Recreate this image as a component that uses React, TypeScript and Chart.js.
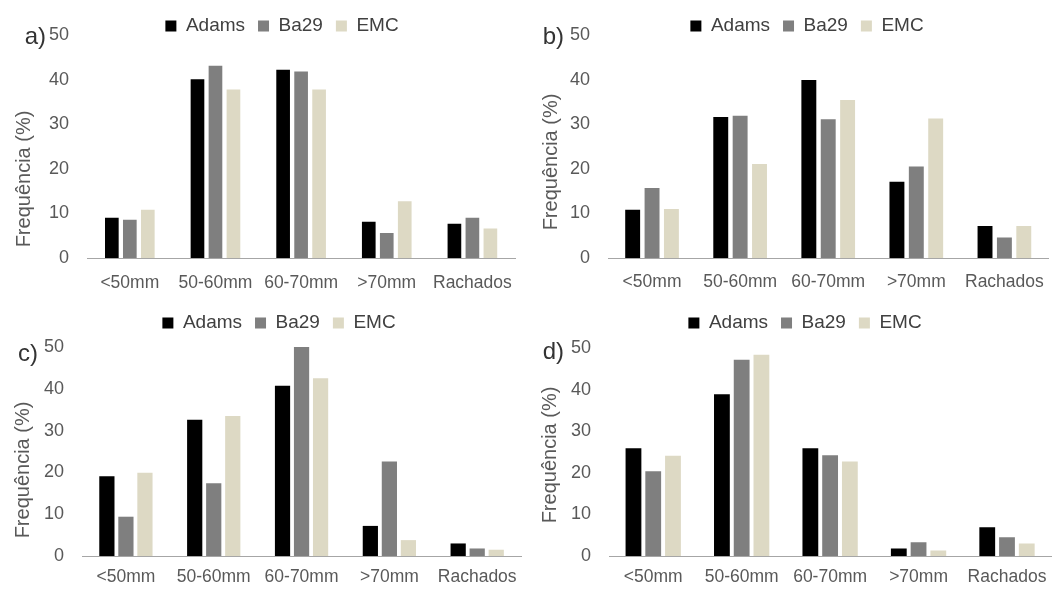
import React, { useEffect, useRef } from "react";
import { Chart, registerables } from "chart.js";

Chart.register(...registerables);

const categories = ["<50mm", "50-60mm", "60-70mm", ">70mm", "Rachados"];
const seriesNames = ["Adams", "Ba29", "EMC"];
const seriesColors = ["#000000", "#7f7f7f", "#ddd9c4"];
const yTicks = [0, 10, 20, 30, 40, 50];
const yTitle = "Frequência (%)";

const adamsA = [9.0, 40.1, 42.2, 8.1, 7.7];
const ba29A = [8.6, 43.1, 41.8, 5.6, 9.0];
const emcA = [10.8, 37.8, 37.8, 12.7, 6.6];

const adamsB = [10.8, 31.6, 39.9, 17.1, 7.2];
const ba29B = [15.7, 31.9, 31.1, 20.5, 4.6];
const emcB = [11.0, 21.1, 35.4, 31.3, 7.2];

const adamsC = [19.1, 32.6, 40.7, 7.2, 3.0];
const ba29C = [9.4, 17.4, 50.0, 22.6, 1.8];
const emcC = [19.9, 33.5, 42.5, 3.8, 1.5];

const adamsD = [25.9, 38.9, 25.9, 1.8, 6.9];
const ba29D = [20.4, 47.2, 24.2, 3.3, 4.5];
const emcD = [24.1, 48.4, 22.7, 1.3, 3.0];

const FONT = '"Liberation Sans", Arial, Helvetica, sans-serif';

type Panel = {
  letter: string;
  series: number[][];
  left: number;
  top: number;
  width: number;
  height: number;
  area: { left: number; right: number; top: number; bottom: number };
  legend: { x: number; y: number };
  title: { x: number; y: number };
  letterPos: { x: number; y: number };
  xPad: number;
  cat: number;
  bar: number;
};

const panels: Panel[] = [
  {
    letter: "a)",
    series: [adamsA, ba29A, emcA],
    left: 0, top: 0, width: 528, height: 300,
    area: { left: 87, right: 516, top: 35, bottom: 258 },
    legend: { x: 282, y: 26 },
    title: { x: 24, y: 179 },
    letterPos: { x: 46, y: 37 },
    xPad: 15, cat: 0.63, bar: 0.76,
  },
  {
    letter: "b)",
    series: [adamsB, ba29B, emcB],
    left: 528, top: 0, width: 530, height: 300,
    area: { left: 80, right: 528, top: 35, bottom: 258 },
    legend: { x: 279, y: 26 },
    title: { x: 23, y: 162 },
    letterPos: { x: 36, y: 37 },
    xPad: 14, cat: 0.66, bar: 0.77,
  },
  {
    letter: "c)",
    series: [adamsC, ba29C, emcC],
    left: 0, top: 300, width: 528, height: 305,
    area: { left: 82, right: 524, top: 47, bottom: 256 },
    legend: { x: 279, y: 23 },
    title: { x: 23, y: 170 },
    letterPos: { x: 38, y: 54 },
    xPad: 11, cat: 0.65, bar: 0.8,
  },
  {
    letter: "d)",
    series: [adamsD, ba29D, emcD],
    left: 528, top: 300, width: 530, height: 305,
    area: { left: 81, right: 524, top: 48, bottom: 256 },
    legend: { x: 277, y: 23 },
    title: { x: 22, y: 155 },
    letterPos: { x: 36, y: 52 },
    xPad: 11, cat: 0.67, bar: 0.8,
  },
];

const LEGEND_PAD = 13;
const LEGEND_FONT = 19;
const LEGEND_MAXH = 30;

const decorPlugin = {
  id: "panelDecor",
  afterLayout(chart: any, _args: any, opts: any) {
    const lg = chart.legend;
    if (!lg) return;
    const w = lg.right - lg.left;
    lg.left = opts.lx - w / 2;
    lg.right = opts.lx + w / 2;
    lg.top = opts.ly - LEGEND_PAD - LEGEND_FONT / 2;
    lg.bottom = lg.top + 60;
  },
  afterDraw(chart: any, _args: any, opts: any) {
    const ctx = chart.ctx;
    ctx.save();
    ctx.fillStyle = "#333333";
    ctx.font = `24px ${FONT}`;
    ctx.textAlign = "right";
    ctx.textBaseline = "middle";
    ctx.fillText(opts.letter, opts.letterX, opts.letterY);
    ctx.restore();
    ctx.save();
    ctx.translate(opts.tx, opts.ty);
    ctx.rotate(-Math.PI / 2);
    ctx.fillStyle = "#595959";
    ctx.font = `20px ${FONT}`;
    ctx.textAlign = "center";
    ctx.textBaseline = "middle";
    ctx.fillText(yTitle, 0, 0);
    ctx.restore();
  },
};

function PanelChart({ p }: { p: Panel }) {
  const ref = useRef<HTMLCanvasElement | null>(null);
  useEffect(() => {
    if (!ref.current) return;
    const chart = new Chart(ref.current, {
      type: "bar",
      data: {
        labels: categories,
        datasets: seriesNames.map((name, i) => ({
          label: name,
          data: p.series[i],
          backgroundColor: seriesColors[i],
          borderWidth: 0,
          categoryPercentage: p.cat,
          barPercentage: p.bar,
        })),
      },
      options: {
        responsive: false,
        animation: false,
        devicePixelRatio: 1,
        layout: {
          padding: {
            left: 0,
            right: p.width - p.area.right,
            top: p.area.top - LEGEND_MAXH,
            bottom: 0,
          },
        },
        scales: {
          x: {
            grid: { display: false, drawTicks: false },
            border: { display: true, color: "#a6a6a6", width: 1 },
            ticks: {
              color: "#595959",
              font: { size: 17.5, family: FONT },
              padding: p.xPad,
              maxRotation: 0,
              autoSkip: false,
            },
            afterFit: (s: any) => {
              s.height = p.height - p.area.bottom;
            },
          },
          y: {
            min: 0,
            max: 50,
            grid: { display: false, drawTicks: false },
            border: { display: false },
            ticks: {
              color: "#595959",
              font: { size: 18, family: FONT },
              padding: 18,
            },
            afterBuildTicks: (s: any) => {
              s.ticks = yTicks.map((v) => ({ value: v }));
            },
            afterFit: (s: any) => {
              s.width = p.area.left;
            },
          },
        },
        plugins: {
          legend: {
            display: true,
            position: "top",
            maxHeight: LEGEND_MAXH,
            labels: {
              boxWidth: 11,
              boxHeight: 11,
              padding: LEGEND_PAD,
              color: "#404040",
              font: { size: LEGEND_FONT, family: FONT },
            },
          },
          tooltip: { enabled: false },
          panelDecor: {
            lx: p.legend.x,
            ly: p.legend.y,
            letter: p.letter,
            letterX: p.letterPos.x,
            letterY: p.letterPos.y,
            tx: p.title.x,
            ty: p.title.y,
          },
        } as any,
      },
      plugins: [decorPlugin],
    } as any);
    return () => chart.destroy();
  }, [p]);
  return (
    <canvas
      ref={ref}
      width={p.width}
      height={p.height}
      style={{ position: "absolute", left: p.left, top: p.top, width: p.width, height: p.height }}
    />
  );
}

export default function App() {
  return (
    <div style={{ position: "absolute", left: 0, top: 0, width: 1058, height: 605, background: "#ffffff", overflow: "hidden" }}>
      {panels.map((p, i) => (
        <PanelChart key={i} p={p} />
      ))}
    </div>
  );
}
